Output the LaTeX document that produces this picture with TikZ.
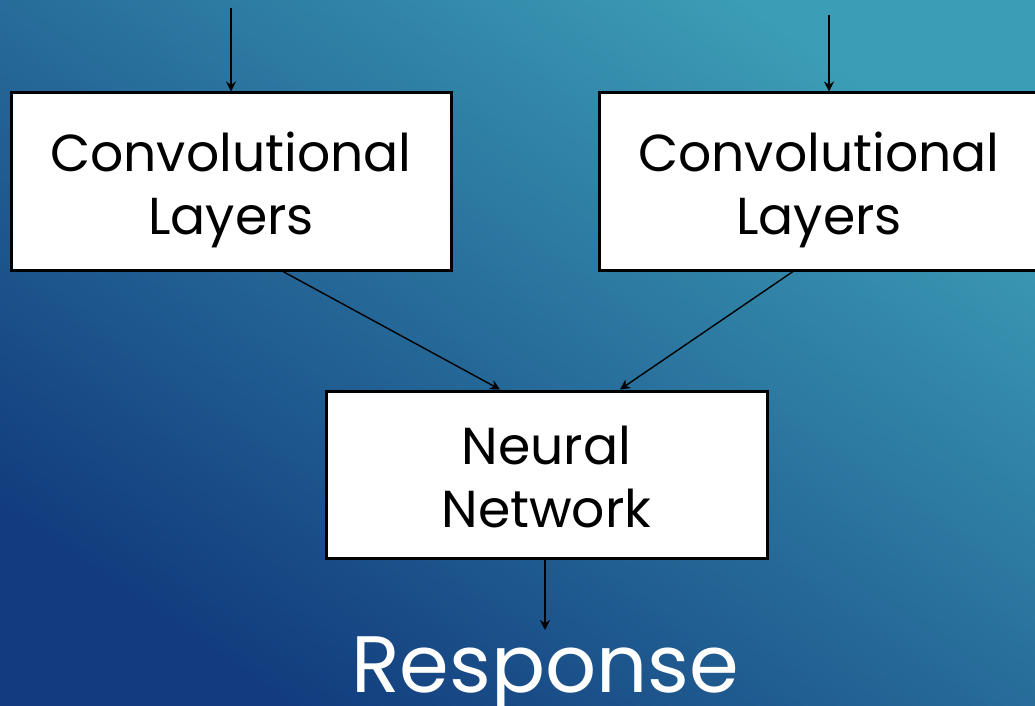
\documentclass[tikz,border=0pt]{standalone}
\usepackage{fontspec}
\setmainfont{Poppins}
\usetikzlibrary{arrows.meta,calc}
\definecolor{bgdark}{HTML}{123C7E}
\definecolor{bgmid}{HTML}{2A70A0}
\definecolor{bglight}{HTML}{3C9DB6}
% fixed first-line height and last-line depth, so every box sets its lines alike
\newcommand\firstline{\rule{0pt}{60pt}}
\newcommand\lastline{\rule[-17pt]{0pt}{17pt}}
\tikzset{
  block/.style={draw=black, line width=3pt, fill=white, minimum width=440pt,
    inner sep=0pt, align=center, font=\fontsize{52}{63}\selectfont},
  link/.style={draw=black, line width=1.4pt, -{Stealth[length=10pt,width=10pt]}},
}
\begin{document}
\begin{tikzpicture}[x=1pt,y=-1pt]
  \useasboundingbox (0,0) rectangle (1035,706);
  \shade[shading=axis, top color=bglight, middle color=bgmid, bottom color=bgdark,
    shading angle=-34.3] (0,0) rectangle (1035,706);
  \begin{scope}
    \clip (0,0) rectangle (1035,706);
    \node[block, minimum height=177pt] (conv1) at (231,181.5)
      {\firstline Convolutional\\Layers\lastline};
    \node[block, minimum height=177pt] (conv2) at (819,181.5)
      {\firstline Convolutional\\Layers\lastline};
  \end{scope}
  \node[block, minimum width=441pt, minimum height=167pt] (nn) at (546.5,474.5)
    {\firstline Neural\\Network\lastline};
  \node[anchor=base, text=white, font=\fontsize{80}{80}\selectfont, inner sep=0pt]
    (resp) at (545,692) {Response};

  \coordinate (in1) at (231,8);
  \coordinate (in2) at (829,15);
  \coordinate (out) at (545,630);

  \draw[link] (in1) -- (conv1.north);
  \draw[link] (in2) -- (in2 |- conv2.north);
  \draw[link] ([xshift=52pt]conv1.south) -- ([xshift=-46.5pt]nn.north);
  \draw[link] ([xshift=-26pt]conv2.south) -- ([xshift=73.5pt]nn.north);
  \draw[link] (nn.south -| out) -- (out);
\end{tikzpicture}
\end{document}
